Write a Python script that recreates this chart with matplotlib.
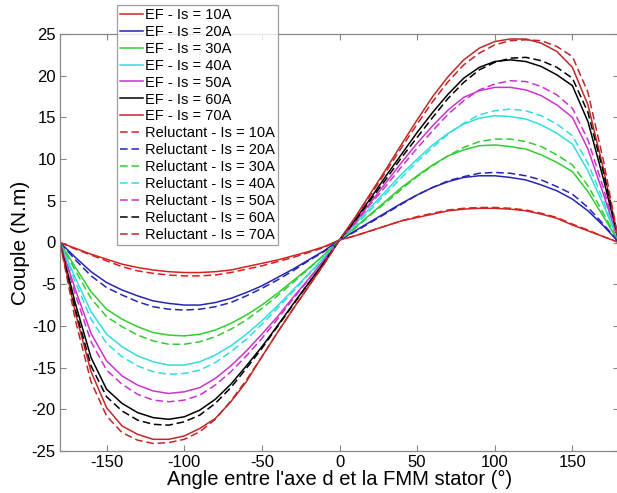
import matplotlib
matplotlib.use("Agg")
import matplotlib.pyplot as plt

angles = list(range(-180, 181, 10))

ef_10 = [0, -0.7, -1.4, -2.0, -2.6, -3.0, -3.3, -3.5, -3.6, -3.6, -3.5, -3.3, -2.9, -2.5, -2.1, -1.6, -1.1, -0.5,
         0.3, 0.8, 1.4, 2.0, 2.6, 3.0, 3.4, 3.8, 4.0, 4.1, 4.1, 4.0, 3.8, 3.4, 2.9, 2.1, 1.4, 0.7, 0]
ef_20 = [0, -1.8, -3.5, -4.8, -5.7, -6.4, -7.0, -7.3, -7.5, -7.5, -7.2, -6.7, -6.0, -5.2, -4.2, -3.2, -2.1, -1.0,
         0.3, 1.4, 2.5, 3.6, 4.7, 5.7, 6.6, 7.3, 7.8, 8.0, 8.0, 7.8, 7.5, 6.9, 6.2, 5.2, 3.8, 2.0, 0]
ef_30 = [0, -3.0, -5.9, -8.0, -9.2, -10.1, -10.8, -11.1, -11.2, -11.0, -10.5, -9.7, -8.7, -7.5, -6.1, -4.6, -3.1, -1.5,
         0.3, 1.8, 3.4, 5.0, 6.6, 8.0, 9.3, 10.4, 11.1, 11.6, 11.7, 11.5, 11.2, 10.5, 9.6, 8.5, 6.1, 3.1, 0]
ef_40 = [0, -4.3, -8.3, -11.0, -12.5, -13.6, -14.3, -14.7, -14.7, -14.3, -13.5, -12.4, -11.0, -9.4, -7.6, -5.7, -3.8, -1.8,
         0.3, 2.2, 4.2, 6.2, 8.2, 10.0, 11.7, 13.1, 14.2, 14.9, 15.2, 15.1, 14.8, 14.1, 13.1, 11.8, 8.6, 4.5, 0]
ef_50 = [0, -5.7, -10.9, -14.2, -16.0, -17.1, -17.8, -18.1, -17.9, -17.4, -16.3, -14.8, -13.0, -11.0, -8.9, -6.6, -4.4, -2.1,
         0.3, 2.4, 4.8, 7.2, 9.6, 11.9, 14.0, 15.9, 17.4, 18.2, 18.6, 18.6, 18.3, 17.6, 16.5, 15.0, 11.2, 5.8, 0]
ef_60 = [0, -7.4, -13.8, -17.6, -19.3, -20.4, -21.0, -21.2, -20.9, -20.1, -18.8, -17.0, -14.8, -12.5, -10.0, -7.4, -4.9, -2.4,
         0.3, 2.7, 5.3, 8.0, 10.6, 13.2, 15.6, 17.8, 19.7, 21.0, 21.7, 21.9, 21.7, 21.1, 20.1, 18.8, 14.5, 7.6, 0]
ef_70 = [0, -8.5, -15.5, -19.8, -22.0, -23.0, -23.6, -23.6, -23.2, -22.3, -21.1, -19.1, -16.7, -13.7, -10.8, -8.0, -5.3, -2.6,
         0.3, 3.0, 5.9, 8.8, 11.8, 14.7, 17.5, 19.9, 21.9, 23.3, 24.1, 24.4, 24.4, 23.9, 22.9, 21.0, 16.5, 8.8, 0]

rel_10 = [0, -0.8, -1.5, -2.2, -2.9, -3.4, -3.7, -3.9, -4.0, -4.0, -3.9, -3.6, -3.2, -2.8, -2.3, -1.8, -1.2, -0.6,
          0.3, 0.8, 1.4, 2.0, 2.6, 3.1, 3.5, 3.9, 4.1, 4.2, 4.2, 4.1, 3.9, 3.5, 3.0, 2.2, 1.5, 0.7, 0]
rel_20 = [0, -2.1, -4.0, -5.4, -6.3, -7.1, -7.7, -8.0, -8.1, -8.0, -7.7, -7.2, -6.4, -5.5, -4.5, -3.4, -2.2, -1.1,
          0.3, 1.3, 2.4, 3.5, 4.6, 5.7, 6.6, 7.4, 7.9, 8.3, 8.4, 8.3, 8.0, 7.5, 6.7, 5.8, 4.2, 2.2, 0]
rel_30 = [0, -3.4, -6.7, -8.9, -10.1, -11.1, -11.8, -12.2, -12.2, -11.9, -11.3, -10.4, -9.3, -7.9, -6.4, -4.8, -3.2, -1.5,
          0.3, 1.7, 3.3, 4.8, 6.4, 7.9, 9.2, 10.4, 11.4, 12.1, 12.4, 12.4, 12.1, 11.5, 10.5, 9.3, 6.8, 3.5, 0]
rel_40 = [0, -4.8, -9.2, -12.1, -13.7, -14.8, -15.5, -15.8, -15.7, -15.3, -14.4, -13.1, -11.6, -9.8, -7.9, -5.9, -3.9, -1.9,
          0.3, 2.0, 3.9, 5.9, 7.8, 9.7, 11.4, 13.0, 14.3, 15.3, 15.8, 16.0, 15.8, 15.2, 14.2, 12.8, 9.5, 5.0, 0]
rel_50 = [0, -6.3, -11.9, -15.3, -17.0, -18.2, -18.9, -19.1, -18.9, -18.3, -17.1, -15.5, -13.6, -11.5, -9.2, -6.8, -4.5, -2.1,
          0.3, 2.3, 4.6, 6.8, 9.1, 11.3, 13.4, 15.4, 17.0, 18.3, 19.0, 19.4, 19.3, 18.7, 17.7, 16.1, 12.3, 6.5, 0]
rel_60 = [0, -8.1, -14.8, -18.5, -20.2, -21.3, -21.8, -21.9, -21.5, -20.7, -19.3, -17.4, -15.1, -12.7, -10.1, -7.5, -4.9, -2.4,
          0.3, 2.6, 5.1, 7.6, 10.2, 12.6, 15.0, 17.3, 19.2, 20.7, 21.6, 22.1, 22.2, 21.8, 21.0, 19.7, 15.6, 8.4, 0]
rel_70 = [0, -9.4, -16.7, -20.8, -22.8, -23.7, -24.1, -24.0, -23.6, -22.7, -21.2, -19.0, -16.5, -13.7, -10.8, -8.0, -5.3, -2.6,
          0.3, 2.9, 5.7, 8.5, 11.4, 14.2, 16.9, 19.3, 21.3, 22.7, 23.7, 24.2, 24.3, 24.2, 23.5, 22.3, 18.0, 9.8, 0]

currents = ["10A", "20A", "30A", "40A", "50A", "60A", "70A"]
colors = ["#d42222", "#2626b4", "#33cc33", "#33dddd", "#cc33cc", "#000000", "#c02828"]
ef_series = [ef_10, ef_20, ef_30, ef_40, ef_50, ef_60, ef_70]
rel_series = [rel_10, rel_20, rel_30, rel_40, rel_50, rel_60, rel_70]

plt.rcParams['font.family'] = ['Liberation Sans', 'DejaVu Sans']
plt.rcParams['axes.unicode_minus'] = False

fig = plt.figure(figsize=(6.17, 4.93), dpi=100)
ax = fig.add_axes([60 / 617, 1 - 451 / 493, 559 / 617, 417 / 493])

for cur, col, ys in zip(currents, colors, ef_series):
    ax.plot(angles, ys, color=col, lw=1.1, label=f"EF - Is = {cur}")
for cur, col, ys in zip(currents, colors, rel_series):
    ax.plot(angles, ys, color=col, lw=1.1, ls=(0, (5, 2.5)), label=f"Reluctant - Is = {cur}")

ax.set_xlim(-180, 180)
ax.set_ylim(-25, 25)
ax.set_xticks([-150, -100, -50, 0, 50, 100, 150])
ax.set_yticks([-25, -20, -15, -10, -5, 0, 5, 10, 15, 20, 25])
ax.tick_params(direction='in', length=4, top=True, right=True, labelsize=12,
               color='#888888', width=0.8, pad=3)
for s in ax.spines.values():
    s.set_color('#888888')
    s.set_linewidth(0.9)

ax.set_xlabel("Angle entre l'axe d et la FMM stator (°)", fontsize=14.5, labelpad=0)
ax.set_ylabel("Couple (N.m)", fontsize=15, labelpad=1)

leg = fig.legend(loc='upper left', bbox_to_anchor=(117 / 617, 1 - 5 / 493),
                 fontsize=10.5, frameon=True, fancybox=False, edgecolor='#888888',
                 handlelength=1.6, handletextpad=0.1, labelspacing=0.2,
                 borderpad=0.2, borderaxespad=0)
leg.get_frame().set_linewidth(0.9)

fig.savefig("out.png", dpi=100)
